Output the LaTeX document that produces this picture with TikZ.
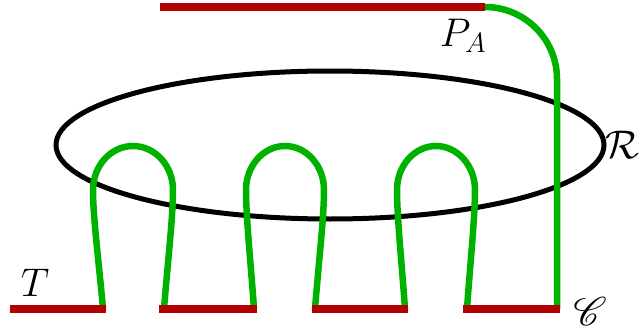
\RequirePackage{fix-cm}
\documentclass[tikz,border=0pt]{standalone}
\DeclareFontFamily{U}{rsfs}{\skewchar\font127 }
\DeclareFontShape{U}{rsfs}{m}{n}{<-> rsfs10}{}
\usepackage{mathrsfs}
\definecolor{cred}{RGB}{178,0,0}
\definecolor{cgreen}{RGB}{0,178,0}
\tikzset{
  redline/.style={draw=cred,line width=7.5pt},
  greenline/.style={draw=cgreen,line width=6.5pt},
  ring/.style={draw=black,line width=5pt},
  lab/.style={inner sep=0pt,font=\fontsize{40}{48}\selectfont}
}
\begin{document}
\begin{tikzpicture}[x=1pt,y=1pt]
\useasboundingbox (0,0) rectangle (641,333);
% ring R
\draw[ring] (330,188) ellipse [x radius=274, y radius=74];
% loops
\foreach \a/\b/\l/\r in {103/164/93/173, 254/315/246/324, 405/467/397/475}{
  \pgfmathsetmacro{\rad}{(\r-\l)/2}
  \pgfmathsetmacro{\ca}{\a-0.35*(\a-\l)}
  \pgfmathsetmacro{\cb}{\b-0.35*(\b-\r)}
  \draw[greenline] (\a,24) .. controls (\ca,65) and (\l,115) .. (\l,143)
     arc[start angle=180,end angle=0,x radius=\rad,y radius=44]
     .. controls (\r,115) and (\cb,65) .. (\b,24);
}
% path to P_A
\coordinate (c0) at (557,24);
\coordinate (c1) at (557,254);
\draw[greenline] (c0) -- (c1) arc[start angle=0,end angle=90,radius=72];
% red segments
\draw[redline] (10,24) -- (106,24);
\draw[redline] (159,24) -- (257,24);
\draw[redline] (312,24) -- (408,24);
\draw[redline] (463,24) -- (560,24);
\draw[redline] (160,326) -- (485,326);
% labels
\node[lab] (T) at (35,50) {$T$};
\node[lab] (PA) at (463,297) {$P_A$};
\node[lab] (R) at (622,188) {$\mathcal{R}$};
\node[lab] (C) at (590,22) {$\mathscr{C}$};
\end{tikzpicture}
\end{document}
